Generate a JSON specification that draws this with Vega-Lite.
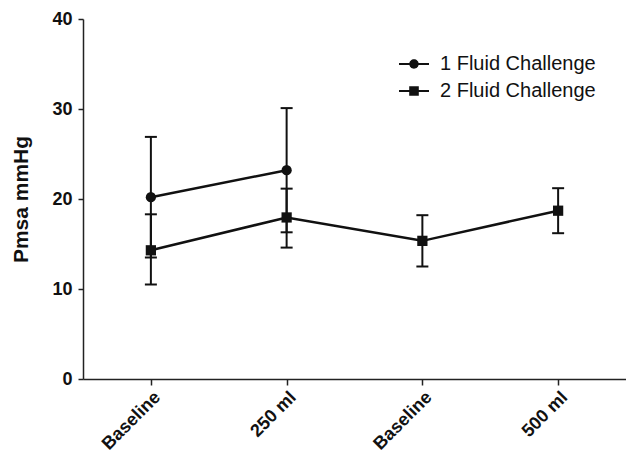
{
  "$schema": "https://vega.github.io/schema/vega-lite/v6.json",
  "autosize": "none",
  "width": 543,
  "height": 360,
  "padding": {"left": 83, "top": 19, "right": 0, "bottom": 74},
  "background": "white",
  "config": {
    "view": {"stroke": null},
    "font": "Liberation Sans",
    "axis": {"domainColor": "#222", "tickColor": "#222", "labelColor": "#111", "titleColor": "#111", "domainWidth": 1.5, "tickWidth": 1.5, "grid": false, "labelFont": "Liberation Sans", "titleFont": "Liberation Sans"}
  },
  "data": {"values": [
    {"series": "1 Fluid Challenge", "time": "Baseline 1", "mean": 20.2, "lo": 13.5, "hi": 26.9},
    {"series": "1 Fluid Challenge", "time": "250 ml", "mean": 23.2, "lo": 16.3, "hi": 30.1},
    {"series": "2 Fluid Challenge", "time": "Baseline 1", "mean": 14.3, "lo": 10.5, "hi": 18.3},
    {"series": "2 Fluid Challenge", "time": "250 ml", "mean": 17.95, "lo": 14.6, "hi": 21.15},
    {"series": "2 Fluid Challenge", "time": "Baseline 2", "mean": 15.35, "lo": 12.5, "hi": 18.2},
    {"series": "2 Fluid Challenge", "time": "500 ml", "mean": 18.7, "lo": 16.2, "hi": 21.2}
  ]},
  "encoding": {
    "x": {
      "field": "time", "type": "ordinal",
      "sort": ["Baseline 1", "250 ml", "Baseline 2", "500 ml"],
      "scale": {"type": "point", "padding": 0.5},
      "axis": {"title": null, "labelAngle": -45, "labelFontSize": 18, "labelFontWeight": "bold", "tickSize": 6, "labelPadding": 3,
               "labelExpr": "slice(datum.value,0,8) == 'Baseline' ? 'Baseline' : datum.value"}
    }
  },
  "resolve": {"scale": {"shape": "independent"}, "legend": {"shape": "independent"}},
  "layer": [
    {
      "mark": {"type": "rule", "color": "#111", "strokeWidth": 2},
      "encoding": {
        "y": {"field": "lo", "type": "quantitative", "scale": {"domain": [0, 40], "nice": false},
              "axis": {"values": [0, 10, 20, 30, 40], "title": "Pmsa mmHg", "titleFontSize": 21, "titleFontWeight": "bold", "titlePadding": 20, "labelFontSize": 18, "labelFontWeight": "bold", "tickSize": 5, "labelPadding": 6}},
        "y2": {"field": "hi"}
      }
    },
    {
      "mark": {"type": "tick", "color": "#111", "size": 12, "thickness": 2, "opacity": 1},
      "encoding": {"y": {"field": "lo", "type": "quantitative"}}
    },
    {
      "mark": {"type": "tick", "color": "#111", "size": 12, "thickness": 2, "opacity": 1},
      "encoding": {"y": {"field": "hi", "type": "quantitative"}}
    },
    {
      "mark": {"type": "line", "color": "#111", "strokeWidth": 2.5},
      "encoding": {
        "y": {"field": "mean", "type": "quantitative"},
        "detail": {"field": "series", "type": "nominal"}
      }
    },
    {
      "mark": {"type": "point", "filled": true, "color": "#111", "opacity": 1, "size": 105},
      "encoding": {
        "y": {"field": "mean", "type": "quantitative"},
        "shape": {
          "field": "series", "type": "nominal",
          "scale": {"domain": ["1 Fluid Challenge", "2 Fluid Challenge"], "range": ["circle", "square"]},
          "legend": null
        }
      }
    },
    {
      "transform": [{"filter": "datum.mean > 1000"}],
      "mark": {"type": "point", "filled": true, "color": "#111", "opacity": 1},
      "encoding": {
        "y": {"field": "mean", "type": "quantitative"},
        "shape": {
          "field": "series", "type": "nominal",
          "scale": {"domain": ["1 Fluid Challenge", "2 Fluid Challenge"],
                    "range": ["M-1.5,-0.11H1.5V0.11H-1.5ZM0.47,0A0.47,0.47,0,1,1,-0.47,0A0.47,0.47,0,1,1,0.47,0Z", "M-1.5,-0.11H1.5V0.11H-1.5ZM-0.48,-0.48H0.48V0.48H-0.48Z"]},
          "legend": {
            "title": null, "orient": "none", "legendX": 320, "legendY": 34, "padding": 0,
            "symbolSize": 400, "symbolFillColor": "#111",
            "labelFontSize": 20, "labelFont": "Liberation Sans", "labelColor": "#111",
            "labelOffset": 15, "rowPadding": 6
          }
        }
      }
    }
  ]
}
